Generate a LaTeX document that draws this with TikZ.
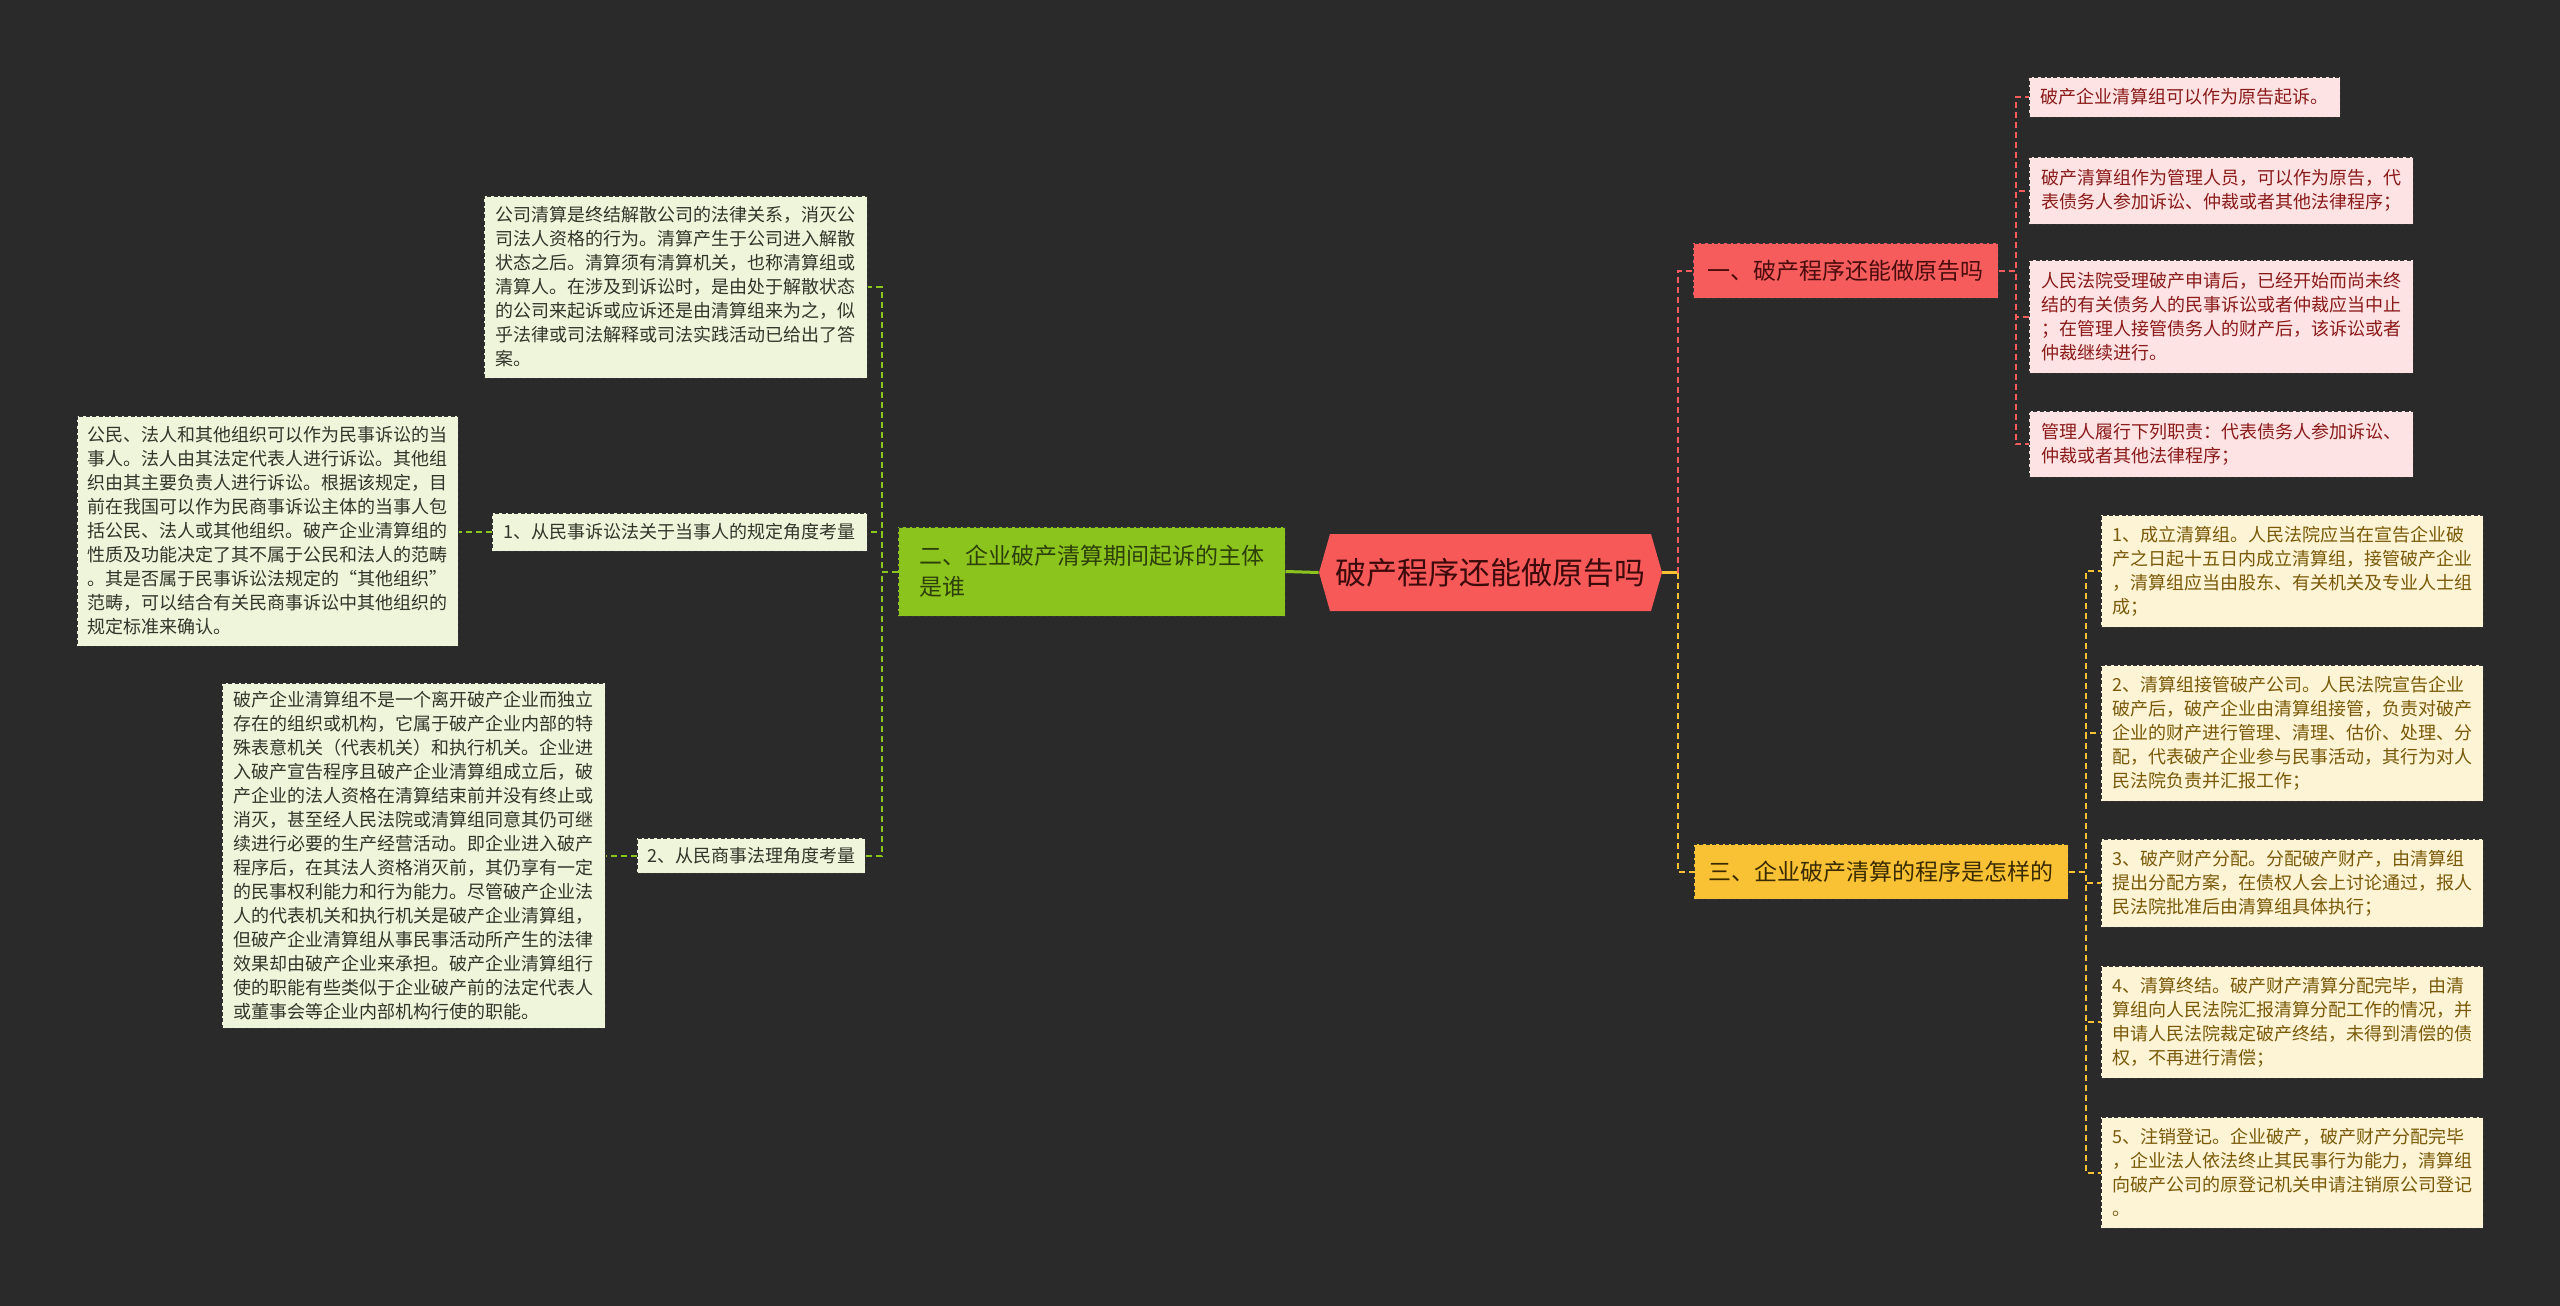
\documentclass[tikz,border=0pt]{standalone}
\usepackage{fontspec}
\setmainfont{Noto Sans CJK SC}
\definecolor{bgc}{HTML}{2A2A2A}
\definecolor{rootc}{HTML}{F75959}
\definecolor{roottext}{HTML}{3C0A0A}
\definecolor{redc}{HTML}{F65C5C}
\definecolor{rleafc}{HTML}{FDE3E3}
\definecolor{rtext}{HTML}{8B1A1A}
\definecolor{rbtext}{HTML}{4A0C0C}
\definecolor{greenc}{HTML}{8CC41E}
\definecolor{gleafc}{HTML}{EEF5DA}
\definecolor{gtext}{HTML}{33352A}
\definecolor{gbtext}{HTML}{2D400A}
\definecolor{yellowc}{HTML}{F9C234}
\definecolor{yleafc}{HTML}{FDF3D5}
\definecolor{ytext}{HTML}{7A5A08}
\definecolor{ybtext}{HTML}{3A2A00}

\begin{document}
\begin{tikzpicture}[x=0.5pt, y=-0.5pt,
  leaf/.style={draw=black!80, dash pattern=on 2pt off 1.2pt, line width=0.5pt, align=left, inner sep=0pt, font=\fontsize{9}{12}\selectfont},
  gleaf/.style={leaf, fill=gleafc, text=gtext},
  rleaf/.style={leaf, fill=rleafc, text=rtext},
  yleaf/.style={leaf, fill=yleafc, text=ytext},
  branch/.style={leaf, font=\fontsize{11.5}{15.5}\selectfont},
  gline/.style={draw=greenc, line width=1pt, dash pattern=on 3pt off 2pt},
  rline/.style={draw=redc, line width=1pt, dash pattern=on 3pt off 2pt},
  yline/.style={draw=yellowc, line width=1pt, dash pattern=on 3pt off 2pt}]
\fill[bgc] (0,0) rectangle (2560,1306);

\fill[rootc] (1330,534) -- (1651,534) -- (1662,572.5) -- (1651,611) -- (1330,611) -- (1319,572.5) -- cycle;
\node (root) [minimum width=171.5pt, minimum height=38.5pt, inner sep=0pt, text=roottext, font=\fontsize{15.5}{18}\selectfont] at (1490.5,572.5) {破产程序还能做原告吗};

\node (g) [branch, fill=greenc, text=gbtext, minimum width=193.5pt, minimum height=44.5pt] at (1091.5,571.5) {二、企业破产清算期间起诉的主体\\是谁};
\node (g1) [gleaf, minimum width=191.5pt, minimum height=91pt] at (675.5,287) {公司清算是终结解散公司的法律关系，消灭公\\司法人资格的行为。清算产生于公司进入解散\\状态之后。清算须有清算机关，也称清算组或\\清算人。在涉及到诉讼时，是由处于解散状态\\的公司来起诉或应诉还是由清算组来为之，似\\乎法律或司法解释或司法实践活动已给出了答\\案。};
\node (gs1) [gleaf, minimum width=187.5pt, minimum height=19pt] at (679.5,532) {1、从民事诉讼法关于当事人的规定角度考量};
\node (gs2) [gleaf, minimum width=114pt, minimum height=17.5pt] at (751,855.5) {2、从民商事法理角度考量};
\node (g2) [gleaf, minimum width=190.5pt, minimum height=115pt] at (267.5,531) {公民、法人和其他组织可以作为民事诉讼的当\\事人。法人由其法定代表人进行诉讼。其他组\\织由其主要负责人进行诉讼。根据该规定，目\\前在我国可以作为民商事诉讼主体的当事人包\\括公民、法人或其他组织。破产企业清算组的\\性质及功能决定了其不属于公民和法人的范畴\\。其是否属于民事诉讼法规定的“其他组织”\\范畴，可以结合有关民商事诉讼中其他组织的\\规定标准来确认。};
\node (g3) [gleaf, minimum width=191.5pt, minimum height=172.5pt] at (413.5,855.5) {破产企业清算组不是一个离开破产企业而独立\\存在的组织或机构，它属于破产企业内部的特\\殊表意机关（代表机关）和执行机关。企业进\\入破产宣告程序且破产企业清算组成立后，破\\产企业的法人资格在清算结束前并没有终止或\\消灭，甚至经人民法院或清算组同意其仍可继\\续进行必要的生产经营活动。即企业进入破产\\程序后，在其法人资格消灭前，其仍享有一定\\的民事权利能力和行为能力。尽管破产企业法\\人的代表机关和执行机关是破产企业清算组，\\但破产企业清算组从事民事活动所产生的法律\\效果却由破产企业来承担。破产企业清算组行\\使的职能有些类似于企业破产前的法定代表人\\或董事会等企业内部机构行使的职能。};

\node (r) [branch, fill=redc, text=rbtext, minimum width=152.5pt, minimum height=27.5pt] at (1845.5,270.5) {一、破产程序还能做原告吗};
\node (ra) [rleaf, minimum width=155.5pt, minimum height=20pt] at (2184.5,97) {破产企业清算组可以作为原告起诉。};
\node (rb) [rleaf, minimum width=192pt, minimum height=33.5pt] at (2221,190.5) {破产清算组作为管理人员，可以作为原告，代\\表债务人参加诉讼、仲裁或者其他法律程序；};
\node (rc) [rleaf, minimum width=192pt, minimum height=56.5pt] at (2221,316.5) {人民法院受理破产申请后，已经开始而尚未终\\结的有关债务人的民事诉讼或者仲裁应当中止\\；在管理人接管债务人的财产后，该诉讼或者\\仲裁继续进行。};
\node (rd) [rleaf, minimum width=192pt, minimum height=33pt] at (2221,444) {管理人履行下列职责：代表债务人参加诉讼、\\仲裁或者其他法律程序；};

\node (y) [branch, fill=yellowc, text=ybtext, minimum width=187pt, minimum height=27.5pt] at (1881,871.5) {三、企业破产清算的程序是怎样的};
\node (y1) [yleaf, minimum width=191pt, minimum height=56pt] at (2292,571) {1、成立清算组。人民法院应当在宣告企业破\\产之日起十五日内成立清算组，接管破产企业\\，清算组应当由股东、有关机关及专业人士组\\成；};
\node (y2) [yleaf, minimum width=191pt, minimum height=68pt] at (2292,733) {2、清算组接管破产公司。人民法院宣告企业\\破产后，破产企业由清算组接管，负责对破产\\企业的财产进行管理、清理、估价、处理、分\\配，代表破产企业参与民事活动，其行为对人\\民法院负责并汇报工作；};
\node (y3) [yleaf, minimum width=191pt, minimum height=44pt] at (2292,883) {3、破产财产分配。分配破产财产，由清算组\\提出分配方案，在债权人会上讨论通过，报人\\民法院批准后由清算组具体执行；};
\node (y4) [yleaf, minimum width=191pt, minimum height=56pt] at (2292,1022) {4、清算终结。破产财产清算分配完毕，由清\\算组向人民法院汇报清算分配工作的情况，并\\申请人民法院裁定破产终结，未得到清偿的债\\权，不再进行清偿；};
\node (y5) [yleaf, minimum width=191pt, minimum height=55.5pt] at (2292,1172.5) {5、注销登记。企业破产，破产财产分配完毕\\，企业法人依法终止其民事行为能力，清算组\\向破产公司的原登记机关申请注销原公司登记\\。};

\coordinate (rj) at (1678,572.5);
\draw[draw=greenc, line width=1.5pt] (g.east) -- (root.west);
\draw[draw=yellowc, line width=1.5pt] (root.east) -- (rj);
\draw[rline] (rj) |- (r.west);
\draw[yline] (rj) |- (y.west);

\draw[gline] (g.west) -- ++(-16,0) |- (g1.east);
\draw[gline] (g.west) -- ++(-16,0) |- (gs1.east);
\draw[gline] (g.west) -- ++(-16,0) |- (gs2.east);
\draw[gline] (gs1.west) -- (gs1.west -| g2.east);
\draw[gline] (gs2.west) -- (gs2.west -| g3.east);

\draw[rline] (r.east) -- ++(17,0) |- (ra.west);
\draw[rline] (r.east) -- ++(17,0) |- (rb.west);
\draw[rline] (r.east) -- ++(17,0) |- (rc.west);
\draw[rline] (r.east) -- ++(17,0) |- (rd.west);

\draw[yline] (y.east) -- ++(17,0) |- (y1.west);
\draw[yline] (y.east) -- ++(17,0) |- (y2.west);
\draw[yline] (y.east) -- ++(17,0) |- (y3.west);
\draw[yline] (y.east) -- ++(17,0) |- (y4.west);
\draw[yline] (y.east) -- ++(17,0) |- (y5.west);
\end{tikzpicture}
\end{document}
